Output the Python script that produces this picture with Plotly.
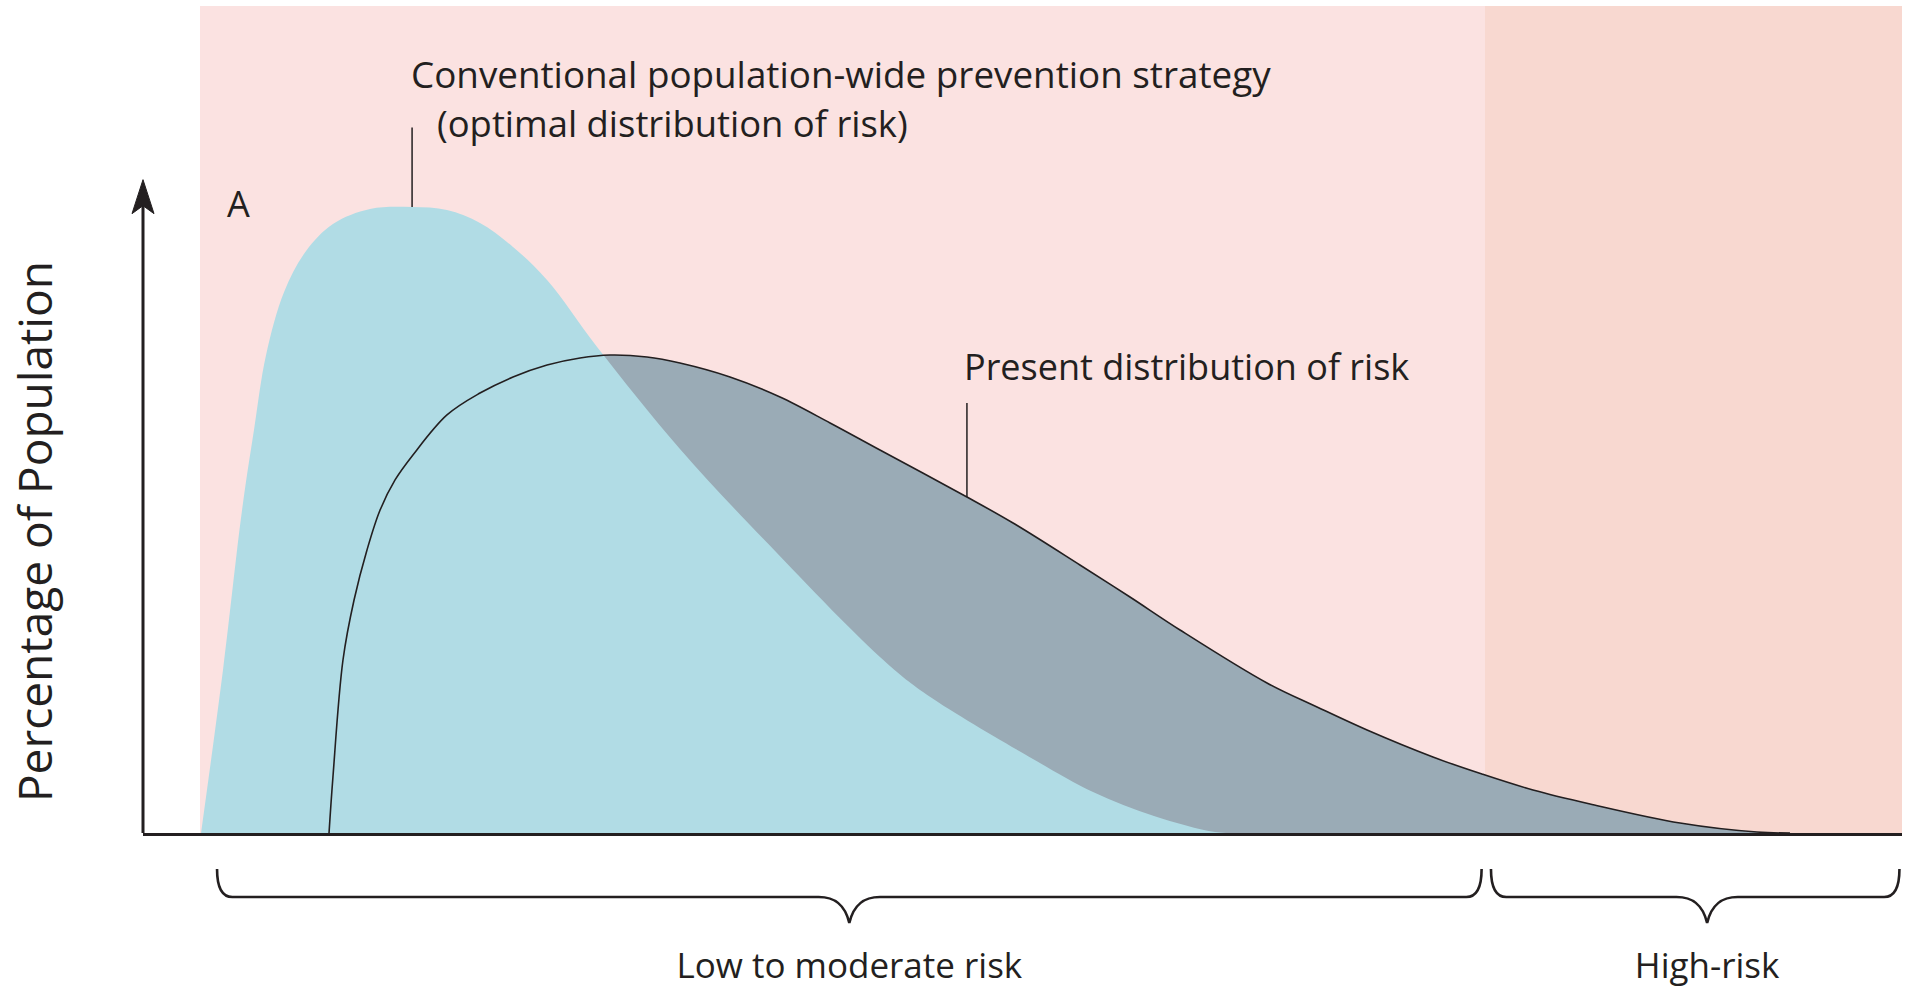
import plotly.graph_objects as go

# ---------------- data ----------------
# Conventional population-wide prevention strategy (optimal distribution of risk)
risk_conv = [0.06, 1.35, 2.47, 3.17, 3.88, 4.94, 6.23, 7.81, 9.99, 12.46, 14.51, 16.45,
             18.39, 20.39, 23.33, 28.20, 33.08, 39.95, 42.48, 48.94, 52.47, 56.05,
             59.64, 61.10]
pop_conv = [0.0, 19.71, 39.06, 48.73, 57.80, 65.42, 70.37, 73.64, 75.45, 75.69, 75.33,
            73.76, 70.86, 66.87, 58.77, 46.43, 35.60, 21.28, 17.05, 8.95, 4.96, 2.06,
            0.12, 0.0]

# Present distribution of risk
risk_pres = [7.58, 7.81, 8.40, 9.05, 9.81, 10.58, 11.46, 12.51, 14.51, 16.45, 18.39,
             20.39, 22.33, 24.09, 26.26, 28.20, 31.14, 34.08, 37.02, 39.95, 45.06,
             47.77, 51.70, 54.64, 57.58, 62.69, 65.63, 68.57, 72.44, 75.32, 78.32,
             81.67, 86.96, 91.48, 93.42]
pop_pres = [0.0, 6.77, 20.92, 28.17, 34.22, 39.06, 42.69, 45.71, 50.55, 53.20, 55.14,
            56.59, 57.44, 57.80, 57.56, 56.83, 55.14, 52.72, 49.58, 46.31, 40.63,
            37.48, 32.41, 28.54, 24.55, 18.14, 15.24, 12.45, 9.19, 7.13, 5.20,
            3.51, 1.21, 0.12, 0.0]

# risk zones
zone_names = ["Low to moderate risk", "High-risk"]
zone_bounds = [0.0, 75.5, 100.0]

# ---------------- styling ----------------
XMIN, XMAX = -3.35, 100.0
YMIN, YMAX = 0.0, 100.0
INK = "#231f20"
PINK_LOW = "#fbe2e1"
PINK_HIGH = "#f8d8d0"
BLUE = "#b1dce5"
GRAY = "#9aabb6"
FONT = "Open Sans"

fig = go.Figure()

line_shape = dict(shape="spline", smoothing=1.0)
# present distribution fill (grey where it exceeds the optimal one)
fig.add_trace(go.Scatter(x=risk_pres, y=pop_pres, mode="lines", fill="tozeroy",
                         fillcolor=GRAY, line=dict(width=0, **line_shape),
                         hoverinfo="skip", showlegend=False))
# conventional / optimal distribution fill
fig.add_trace(go.Scatter(x=risk_conv, y=pop_conv, mode="lines", fill="tozeroy",
                         fillcolor=BLUE, line=dict(width=0, color=BLUE, **line_shape),
                         hoverinfo="skip", showlegend=False))
# present distribution outline
fig.add_trace(go.Scatter(x=risk_pres, y=pop_pres, mode="lines",
                         line=dict(width=1.6, color=INK, **line_shape),
                         hoverinfo="skip", showlegend=False))

shapes = []
# background zones
zone_colors = [PINK_LOW, PINK_HIGH]
for i in range(len(zone_names)):
    shapes.append(dict(type="rect", xref="x", yref="y", x0=zone_bounds[i], x1=zone_bounds[i + 1],
                       y0=YMIN, y1=YMAX, fillcolor=zone_colors[i], line=dict(width=0), layer="below"))

# leader lines
peak_i = pop_conv.index(max(pop_conv))
lead_i = risk_pres.index(45.06)
shapes.append(dict(type="line", xref="x", yref="y", x0=risk_conv[peak_i], x1=risk_conv[peak_i],
                   y0=pop_conv[peak_i], y1=85.3, line=dict(color=INK, width=1.5)))
shapes.append(dict(type="line", xref="x", yref="y", x0=risk_pres[lead_i], x1=risk_pres[lead_i],
                   y0=pop_pres[lead_i], y1=52.0, line=dict(color=INK, width=1.5)))

# y axis with arrow (paper coords)
PLOT_W, PLOT_H = 1759.0, 827.0
def px(dx):
    return dx / PLOT_W
def py(dy):
    return dy / PLOT_H
tip = 0.79
shapes.append(dict(type="line", xref="paper", yref="paper", x0=0, x1=0, y0=0, y1=tip - py(20),
                   line=dict(color=INK, width=3)))
shapes.append(dict(type="path", xref="paper", yref="paper",
                   path=f"M {px(0)},{tip} L {px(-11)},{tip - py(34)} L {px(0)},{tip - py(26)} "
                        f"L {px(11)},{tip - py(34)} Z",
                   fillcolor=INK, line=dict(color=INK, width=1)))

# braces under the x axis
Y_TOP, Y_LINE, Y_TIP = -0.0435, -0.0774, -0.1088
r = 0.9
w = 1.8
gaps = [(1.0, 0.2), (0.35, 0.15)]
tip_shift = [0.0, 0.7]
label_x = []
for i in range(len(zone_names)):
    a = zone_bounds[i] + gaps[i][0]
    b = zone_bounds[i + 1] - gaps[i][1]
    m = (a + b) / 2 + tip_shift[i]
    label_x.append(m)
    d = Y_TIP - Y_LINE
    path = (f"M {a},{Y_TOP} Q {a},{Y_LINE} {a + r},{Y_LINE} L {m - w},{Y_LINE} "
            f"C {m - 0.5 * w},{Y_LINE} {m - 0.15 * w},{Y_LINE + 0.25 * d} {m},{Y_TIP} "
            f"C {m + 0.15 * w},{Y_LINE + 0.25 * d} {m + 0.5 * w},{Y_LINE} {m + w},{Y_LINE} "
            f"L {b - r},{Y_LINE} Q {b},{Y_LINE} {b},{Y_TOP}")
    shapes.append(dict(type="path", xref="x", yref="paper", path=path,
                       line=dict(color=INK, width=2.6)))

annotations = [
    dict(text="Conventional population-wide prevention strategy", x=12.28, y=91.78,
         xref="x", yref="y", xanchor="left", yanchor="middle", showarrow=False,
         font=dict(family=FONT, size=36.8, color=INK)),
    dict(text="(optimal distribution of risk)", x=13.81, y=85.85,
         xref="x", yref="y", xanchor="left", yanchor="middle", showarrow=False,
         font=dict(family=FONT, size=36.4, color=INK)),
    dict(text="Present distribution of risk", x=44.77, y=56.35,
         xref="x", yref="y", xanchor="left", yanchor="middle", showarrow=False,
         font=dict(family=FONT, size=36, color=INK)),
    dict(text="A", x=2.29, y=76.06, xref="x", yref="y", xanchor="center", yanchor="middle",
         showarrow=False, font=dict(family=FONT, size=36, color=INK)),
    dict(text="Percentage of Population", x=-0.0619, y=0.364, xref="paper", yref="paper",
         xanchor="center", yanchor="middle", textangle=-90, showarrow=False,
         font=dict(family=FONT, size=46, color=INK)),
]

fig.update_layout(
    width=1905, height=990, autosize=False,
    margin=dict(l=143, r=3, t=6, b=157, autoexpand=False),
    paper_bgcolor="white", plot_bgcolor="white",
    xaxis=dict(range=[XMIN, XMAX], showline=True, linecolor=INK, linewidth=3,
               tickmode="array", tickvals=label_x, ticktext=zone_names, ticks="",
               tickfont=dict(family=FONT, size=35, color=INK), ticklabelstandoff=100,
               ticklabeloverflow="allow", automargin=False,
               showgrid=False, zeroline=False),
    yaxis=dict(range=[YMIN, YMAX], showline=False, showticklabels=False, ticks="",
               showgrid=False, zeroline=False, automargin=False),
    shapes=shapes, annotations=annotations, showlegend=False,
)

fig.write_html("out.html", config={"displayModeBar": False},
               post_script="document.body.style.margin='0';document.body.style.overflow='hidden';")
